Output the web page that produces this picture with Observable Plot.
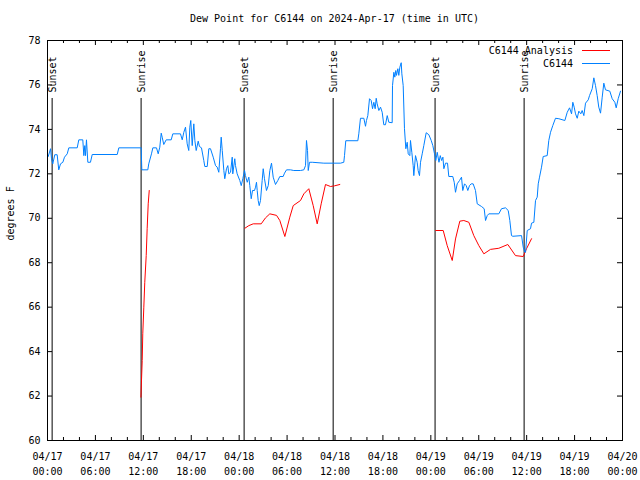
<!DOCTYPE html>
<html>
<head>
<meta charset="utf-8">
<script src="https://cdn.jsdelivr.net/npm/d3@7"></script>
<script src="https://cdn.jsdelivr.net/npm/@observablehq/plot@0.6"></script>
<style>
  body { margin: 0; background: white; }
  #wrap { position: relative; width: 640px; height: 480px; font-family: "DejaVu Sans Mono", monospace; font-size: 10px; color: black; }
  #title { height: 36px; box-sizing: border-box; padding-top: 13px; line-height: 12px; padding-left: 47px; width: 622px; text-align: center; white-space: pre; }
  #legend { position: absolute; top: 44px; left: 0; width: 610px; }
  .row { display: flex; justify-content: flex-end; align-items: center; height: 13px; }
  .row span { margin-right: 9px; white-space: pre; }
  .sw { width: 28px; height: 1px; }
</style>
</head>
<body>
<div id="wrap">
  <div id="title"></div>
  <div id="chart"></div>
  <div id="legend"></div>
</div>
<script>
const titleText = "Dew Point for C6144 on 2024-Apr-17 (time in UTC)";
const yLabel = "degrees F";
const startUTC = "2024-04-17T00:00:00Z";
const endUTC = "2024-04-20T00:00:00Z";
const yTicks = [60, 62, 64, 66, 68, 70, 72, 74, 76, 78];
const xMajorHours = [0, 6, 12, 18, 24, 30, 36, 42, 48, 54, 60, 66, 72];
const xMinorHours = [2, 4, 8, 10, 14, 16, 20, 22, 26, 28, 32, 34, 38, 40, 44, 46, 50, 52, 56, 58, 62, 64, 68, 70];

const eventHours = [0.58, 11.72, 24.62, 35.77, 48.53, 59.68];
const eventLabels = ["Sunset", "Sunrise", "Sunset", "Sunrise", "Sunset", "Sunrise"];

const seriesNames = ["C6144 Analysis", "C6144"];
const seriesColors = ["#ff0000", "#0080ff"];

// C6144 observations (hours since 2024-04-17 00:00 UTC, dew point F)
const blueHours = [0.09,0.38,0.50,0.66,0.91,1.21,1.41,1.63,1.92,2.13,2.47,2.67,3.72,3.92,4.42,4.55,4.67,4.76,4.88,5.05,5.38,5.60,8.73,8.93,11.73,11.81,12.56,12.68,13.02,13.19,13.65,13.86,14.06,14.24,14.36,14.56,14.86,15.49,15.69,16.65,16.87,17.07,17.28,17.49,17.69,17.82,17.94,18.12,18.32,18.45,18.62,18.87,19.03,19.28,19.57,19.70,20.00,20.20,20.41,20.75,21.04,21.25,21.45,21.66,21.75,21.88,22.08,22.20,22.41,22.58,22.70,22.92,23.13,23.20,23.45,23.54,23.75,24.08,24.26,24.46,24.67,24.79,25.01,25.21,25.33,25.51,25.67,25.92,26.05,26.17,26.26,26.38,26.51,26.67,26.88,27.01,27.17,27.42,27.64,27.84,28.05,28.26,28.55,28.84,29.09,29.51,29.68,29.93,30.43,30.84,31.68,32.10,32.31,32.43,32.56,32.65,32.81,33.15,34.60,35.85,36.69,37.10,37.19,37.35,38.86,38.98,39.19,39.61,39.82,39.94,40.11,40.32,40.53,40.70,40.86,41.03,41.16,41.28,41.49,41.70,41.91,42.11,42.32,42.54,42.74,43.16,43.20,43.37,43.49,43.61,43.70,43.87,43.99,44.12,44.29,44.37,44.54,44.70,44.87,45.04,45.17,45.37,45.45,45.62,45.79,45.87,46.08,46.29,46.41,46.58,46.71,46.92,47.12,47.42,47.75,48.05,48.25,48.46,48.62,48.80,49.02,49.18,49.35,49.51,49.63,49.84,50.09,50.25,50.75,50.93,51.09,51.30,51.59,51.84,52.00,52.22,52.43,52.63,52.84,53.05,53.30,53.59,53.81,54.35,54.68,54.85,55.06,55.26,56.51,56.85,57.35,57.69,57.89,58.10,58.27,59.36,59.57,59.77,59.86,60.07,60.48,60.61,60.90,61.11,61.32,61.45,61.61,61.86,62.07,62.57,62.77,62.99,63.27,63.61,64.03,64.78,65.08,65.37,65.62,65.78,65.95,66.12,66.33,66.53,66.78,66.95,67.16,67.37,67.71,67.87,68.21,68.41,68.62,68.83,69.03,69.25,69.46,69.66,69.87,70.41,70.71,71.04,71.21,71.46,71.75];
const blueValues = [72.78,73.13,72.68,72.45,72.86,72.86,72.18,72.45,72.52,72.75,72.90,73.17,73.17,73.53,73.53,72.82,73.27,72.82,73.53,72.52,72.52,72.87,72.87,73.17,73.17,72.18,72.18,72.45,72.90,73.17,73.17,72.90,73.20,73.83,73.65,73.32,73.53,73.53,73.80,73.80,73.53,73.87,74.10,73.35,73.05,74.10,74.40,73.27,74.25,73.50,73.05,73.47,73.23,73.17,72.60,72.33,72.33,73.13,73.13,72.75,72.37,72.30,72.07,73.13,73.65,73.05,72.15,71.78,72.23,72.37,72.00,72.07,72.75,72.00,72.68,72.37,72.00,71.70,71.47,71.78,72.15,71.92,71.62,71.85,71.47,70.88,71.25,71.25,71.40,71.62,71.25,70.80,70.57,70.80,71.70,72.23,71.78,71.25,71.47,72.15,72.48,71.85,71.52,71.70,71.88,71.88,72.03,72.18,72.18,72.15,72.15,72.18,72.37,73.50,73.05,72.15,72.52,72.52,72.48,72.48,72.48,72.52,72.82,73.49,73.49,73.80,74.50,74.50,74.14,74.40,74.62,75.38,75.30,74.93,75.22,74.93,75.40,75.15,74.85,75.00,74.77,74.21,74.21,74.62,74.32,74.30,75.97,76.57,76.35,76.65,76.43,76.73,76.43,76.80,77.00,76.50,75.97,74.03,73.13,73.42,72.90,72.82,73.50,72.97,72.37,71.92,72.82,72.52,72.15,71.92,72.52,72.90,73.27,73.85,73.76,73.50,73.27,72.90,72.60,72.97,72.52,72.82,72.60,72.75,72.23,72.48,72.48,71.88,71.88,71.62,71.17,71.55,71.70,71.85,71.25,71.55,71.47,71.25,71.47,71.55,71.55,71.25,70.65,70.53,70.43,69.90,70.12,70.20,70.20,70.43,70.47,70.35,69.90,69.22,69.19,69.22,68.70,68.47,68.47,69.45,69.53,69.78,69.82,70.80,70.95,71.55,71.85,72.30,72.78,72.82,73.50,73.87,74.17,74.50,74.48,74.40,74.77,74.97,74.70,75.22,75.00,74.70,74.50,74.82,74.70,74.85,74.62,75.18,75.33,75.52,75.83,76.32,75.97,75.52,75.00,74.73,75.45,76.08,75.78,75.72,75.38,75.22,74.97,75.38,75.72];

// C6144 Analysis (null = gap between runs)
const redHours = [11.70,11.75,11.86,11.93,12.06,12.18,12.36,12.48,12.61,12.74,
  null,
  24.71,25.21,25.76,26.76,27.30,27.84,28.68,29.09,29.72,30.34,30.77,31.68,32.10,32.72,33.27,33.77,34.27,34.81,35.44,35.94,36.60,
  null,
  48.62,49.55,50.05,50.68,51.09,51.63,52.13,52.76,53.38,54.01,54.64,55.47,56.51,57.64,58.60,59.57,59.98,60.61];
const redValues = [61.95,62.50,63.60,64.80,66.00,67.12,68.32,69.53,70.65,71.25,
  null,
  69.55,69.67,69.75,69.75,70.02,70.20,70.13,69.90,69.18,70.05,70.57,70.80,71.10,71.33,70.57,69.75,70.65,71.52,71.43,71.46,71.52,
  null,
  69.45,69.45,68.77,68.10,69.07,69.87,69.90,69.82,69.22,68.77,68.40,68.60,68.65,68.82,68.32,68.28,68.63,69.08];

const t0 = new Date(startUTC);
const t1 = new Date(endUTC);
const at = h => (h == null ? null : new Date(t0.getTime() + h * 3600e3));

const blue = blueHours.map((h, i) => ({t: at(h), v: blueValues[i]}));
const red = redHours.map((h, i) => ({t: at(h), v: redValues[i]}));
const events = eventHours.map((h, i) => ({t: at(h), label: eventLabels[i]}));
const majors = xMajorHours.map(at);
const minors = xMinorHours.map(at);

document.getElementById("title").textContent = titleText;

const fmt = d3.utcFormat("%m/%d\n%H:%M");

const chart = Plot.plot({
  width: 640,
  height: 444,
  marginTop: 4,
  marginLeft: 47,
  marginRight: 18,
  marginBottom: 40,
  style: {fontFamily: "DejaVu Sans Mono, monospace", fontSize: "10px", color: "black", background: "white", overflow: "visible"},
  x: {type: "utc", domain: [t0, t1]},
  y: {domain: [60, 78]},
  marks: [
    Plot.ruleX(events, {x: "t", insetTop: 58, stroke: "black", strokeWidth: 1}),
    Plot.text(events, {x: "t", text: "label", frameAnchor: "top", dy: 52, dx: -3, rotate: -90, textAnchor: "start", fill: "black"}),
    Plot.line(red, {x: "t", y: "v", stroke: seriesColors[0], strokeWidth: 1}),
    Plot.line(blue, {x: "t", y: "v", stroke: seriesColors[1], strokeWidth: 1}),
    Plot.tickX(majors, {x: d => d, insetTop: 395, stroke: "black"}),
    Plot.tickX(majors, {x: d => d, insetBottom: 395, stroke: "black"}),
    Plot.tickX(minors, {x: d => d, insetTop: 397, stroke: "black"}),
    Plot.tickX(minors, {x: d => d, insetBottom: 397, stroke: "black"}),
    Plot.tickY(yTicks, {y: d => d, insetRight: 570, stroke: "black"}),
    Plot.tickY(yTicks, {y: d => d, insetLeft: 570, stroke: "black"}),
    Plot.axisX(majors, {tickSize: 0, tickPadding: 9, tickFormat: fmt, lineHeight: 1.5, label: null}),
    Plot.axisY(yTicks, {tickSize: 0, tickPadding: 7, label: null}),
    Plot.text([yLabel], {text: d => d, frameAnchor: "left", rotate: -90, dx: -37, fill: "black"}),
    Plot.frame({stroke: "black"})
  ]
});
document.getElementById("chart").appendChild(chart);

const legend = document.getElementById("legend");
seriesNames.forEach((name, i) => {
  const row = document.createElement("div");
  row.className = "row";
  const s = document.createElement("span");
  s.textContent = name;
  const sw = document.createElement("div");
  sw.className = "sw";
  sw.style.background = seriesColors[i];
  row.appendChild(s);
  row.appendChild(sw);
  legend.appendChild(row);
});
</script>
</body>
</html>
